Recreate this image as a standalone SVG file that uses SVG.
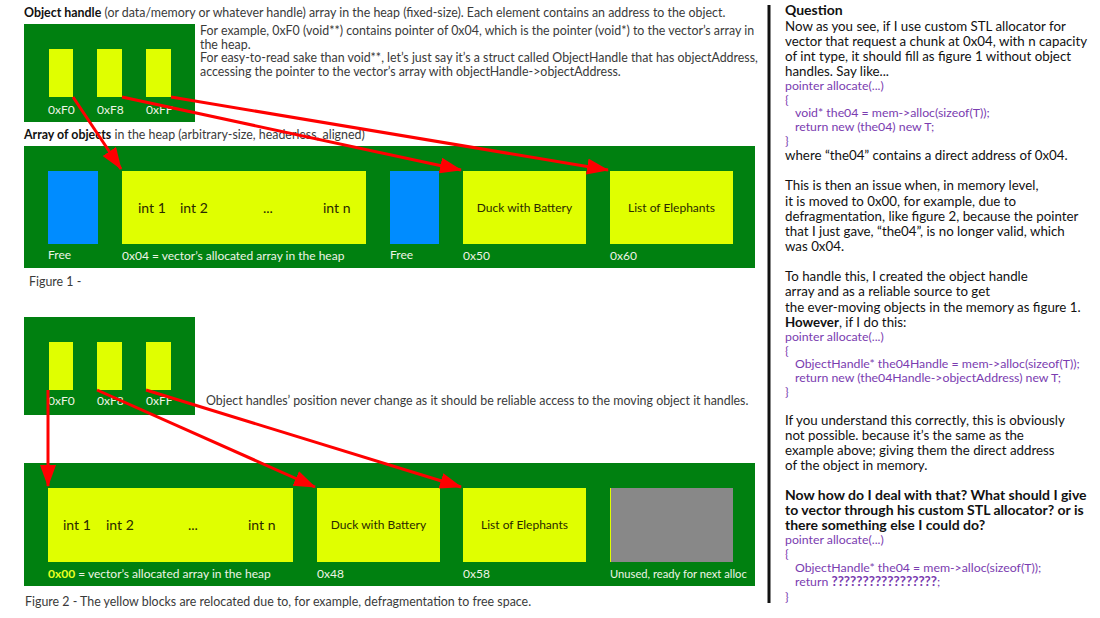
<svg xmlns="http://www.w3.org/2000/svg" width="1100" height="618" viewBox="0 0 1100 618">
<defs>
<style>
.t{font-family:Lato,"Open Sans","Liberation Sans",sans-serif;fill:#3a3a3a;font-size:12.4px}
.b{font-weight:bold;fill:#111}
.w{font-family:Lato,"Open Sans","Liberation Sans",sans-serif;fill:#eef4e6;font-size:12px}
.ws{font-size:11.2px}
.k{font-family:Lato,"Open Sans","Liberation Sans",sans-serif;fill:#2a2a00;font-size:12px}
.big{font-size:14px}
.q{font-family:Lato,"Open Sans","Liberation Sans",sans-serif;fill:#111;font-size:13.3px}
.qb{font-weight:bold;font-size:14px}
.c{font-family:Lato,"Open Sans","Liberation Sans",sans-serif;fill:#7a3cb0;font-size:12.3px}
.g{fill:#008010}
.y{fill:#e0ff00}
.bl{fill:#008cff}
.gr{fill:#888888}
.ar{stroke:#ff0000;stroke-width:3;fill:none;marker-end:url(#ah)}
</style>
<marker id="ah" markerUnits="userSpaceOnUse" markerWidth="24" markerHeight="18" refX="21" refY="8" orient="auto">
<path d="M0,0 L22,8 L0,16 z" fill="#ff0000"/>
</marker>
</defs>
<rect width="1100" height="618" fill="#ffffff"/>

<!-- Figure 1 texts -->
<text class="t" x="24" y="17"><tspan class="b">Object handle</tspan> (or data/memory or whatever handle) array in the heap (fixed-size). Each element contains an address to the object.</text>
<text class="t" x="200" y="35">For example, 0xF0 (void**) contains pointer of 0x04, which is the pointer (void*) to the vector’s array in</text>
<text class="t" x="200" y="49">the heap.</text>
<text class="t" x="200" y="62">For easy-to-read sake than void**, let’s just say it’s a struct called ObjectHandle that has objectAddress,</text>
<text class="t" x="200" y="76">accessing the pointer to the vector’s array with objectHandle-&gt;objectAddress.</text>
<text class="t" x="24" y="139"><tspan class="b">Array of objects</tspan> in the heap (arbitrary-size, headerless, aligned)</text>
<text class="t" x="29" y="286">Figure 1 -</text>

<g id="handles1">
<rect class="g" x="24" y="24" width="171" height="98"/>
<rect class="y" x="49" y="49" width="24" height="48"/>
<rect class="y" x="97" y="49" width="25" height="48"/>
<rect class="y" x="146" y="49" width="25" height="48"/>
<text class="w" x="48" y="114">0xF0</text>
<text class="w" x="97" y="114">0xF8</text>
<text class="w" x="146" y="114">0xFF</text>
</g>

<g id="heap1">
<rect class="g" x="24" y="146" width="731" height="122"/>
</g>
<g id="free1">
<rect class="bl" x="48" y="171" width="50" height="73"/>
<text class="w" x="48" y="259">Free</text>
</g>
<g id="vec1">
<rect class="y" x="122" y="171" width="244" height="73"/>
<text class="k big" x="138" y="213">int 1</text>
<text class="k big" x="180" y="213">int 2</text>
<text class="k big" x="263" y="213">...</text>
<text class="k big" x="323" y="213">int n</text>
<text class="w" x="122" y="260">0x04 = vector’s allocated array in the heap</text>
</g>
<g id="free2">
<rect class="bl" x="390" y="171" width="49" height="73"/>
<text class="w" x="390" y="259">Free</text>
</g>
<g id="duck1">
<rect class="y" x="463" y="171" width="123" height="73"/>
<text class="k" x="524.5" y="212" text-anchor="middle">Duck with Battery</text>
<text class="w" x="463" y="260">0x50</text>
</g>
<g id="list1">
<rect class="y" x="610" y="171" width="123" height="73"/>
<text class="k" x="671.5" y="212" text-anchor="middle">List of Elephants</text>
<text class="w" x="610" y="260">0x60</text>
</g>

<!-- Figure 2 -->
<g id="handles2">
<rect class="g" x="24" y="317" width="171" height="98"/>
<rect class="y" x="49" y="342" width="24" height="48"/>
<rect class="y" x="97" y="342" width="25" height="48"/>
<rect class="y" x="146" y="342" width="25" height="48"/>
<text class="w" x="48" y="405">0xF0</text>
<text class="w" x="97" y="405">0xF8</text>
<text class="w" x="146" y="405">0xFF</text>
</g>
<text class="t" x="206" y="405">Object handles’ position never change as it should be reliable access to the moving object it handles.</text>

<g id="heap2">
<rect class="g" x="24" y="463" width="731" height="123"/>
</g>
<g id="vec2">
<rect class="y" x="48" y="488" width="245" height="74"/>
<text class="k big" x="63" y="530">int 1</text>
<text class="k big" x="106" y="530">int 2</text>
<text class="k big" x="188" y="530">...</text>
<text class="k big" x="248" y="530">int n</text>
<text class="w" x="48" y="578"><tspan font-weight="bold" fill="#e8ff20">0x00</tspan> = vector’s allocated array in the heap</text>
</g>
<g id="duck2">
<rect class="y" x="317" y="488" width="123" height="74"/>
<text class="k" x="378.5" y="529" text-anchor="middle">Duck with Battery</text>
<text class="w" x="317" y="578">0x48</text>
</g>
<g id="list2">
<rect class="y" x="463" y="488" width="123" height="74"/>
<text class="k" x="524.5" y="529" text-anchor="middle">List of Elephants</text>
<text class="w" x="463" y="578">0x58</text>
</g>
<g id="unused2">
<rect class="gr" x="610" y="488" width="123" height="74"/>
<rect class="y" x="610" y="488" width="1" height="74"/>
<text class="w ws" x="610" y="578">Unused, ready for next alloc</text>
</g>
<text class="t" x="25" y="606">Figure 2 - The yellow blocks are relocated due to, for example, defragmentation to free space.</text>

<g id="connectors">
<line class="ar" x1="73" y1="97" x2="121" y2="169"/>
<line class="ar" x1="122" y1="97" x2="461" y2="170"/>
<line class="ar" x1="171" y1="97" x2="608" y2="170"/>
<line class="ar" x1="48" y1="390" x2="48" y2="486"/>
<line class="ar" x1="97" y1="390" x2="315" y2="487"/>
<line class="ar" x1="146" y1="390" x2="461" y2="487"/>
</g>

<!-- Right panel -->
<g id="question">
<rect x="767.5" y="5" width="3" height="598" fill="#111"/>
<text class="q qb" x="785" y="15">Question</text>
<text class="q" x="785" y="31">Now as you see, if I use custom STL allocator for</text>
<text class="q" x="785" y="46">vector that request a chunk at 0x04, with n capacity</text>
<text class="q" x="785" y="61">of int type, it should fill as figure 1 without object</text>
<text class="q" x="785" y="76">handles. Say like...</text>
<text class="c" x="785" y="90">pointer allocate(...)</text>
<text class="c" x="785" y="104">{</text>
<text class="c" x="795" y="117">void* the04 = mem-&gt;alloc(sizeof(T));</text>
<text class="c" x="795" y="131">return new (the04) new T;</text>
<text class="c" x="785" y="145">}</text>
<text class="q" x="785" y="160">where “the04” contains a direct address of 0x04.</text>
<text class="q" x="785" y="190">This is then an issue when, in memory level,</text>
<text class="q" x="785" y="206">it is moved to 0x00,  for example, due to</text>
<text class="q" x="785" y="221">defragmentation, like figure 2, because the pointer</text>
<text class="q" x="785" y="236">that I just gave, “the04”, is no  longer valid, which</text>
<text class="q" x="785" y="251">was 0x04.</text>
<text class="q" x="785" y="281">To handle this, I created the object handle</text>
<text class="q" x="785" y="296">array and as a reliable source to get</text>
<text class="q" x="785" y="312">the ever-moving objects in the memory as figure 1.</text>
<text class="q" x="785" y="327"><tspan font-weight="bold">However</tspan>, if I do this:</text>
<text class="c" x="785" y="341">pointer allocate(...)</text>
<text class="c" x="785" y="355">{</text>
<text class="c" x="795" y="368">ObjectHandle* the04Handle = mem-&gt;alloc(sizeof(T));</text>
<text class="c" x="795" y="382">return new (the04Handle-&gt;objectAddress) new T;</text>
<text class="c" x="785" y="396">}</text>
<text class="q" x="785" y="425">If you understand this correctly, this is obviously</text>
<text class="q" x="785" y="440">not possible. because it’s the same as the</text>
<text class="q" x="785" y="455">example above; giving them the direct address</text>
<text class="q" x="785" y="470">of the object in memory.</text>
<text class="q qb" x="785" y="500">Now how do I deal with that? What should I give</text>
<text class="q qb" x="785" y="515">to vector through his custom STL allocator? or is</text>
<text class="q qb" x="785" y="530">there something else I could do?</text>
<text class="c" x="785" y="544">pointer allocate(...)</text>
<text class="c" x="785" y="558">{</text>
<text class="c" x="795" y="572">ObjectHandle* the04 = mem-&gt;alloc(sizeof(T));</text>
<text class="c" x="795" y="586">return <tspan font-weight="bold" font-size="13.5px">?????????????????</tspan>;</text>
<text class="c" x="785" y="601">}</text>
</g>
</svg>
